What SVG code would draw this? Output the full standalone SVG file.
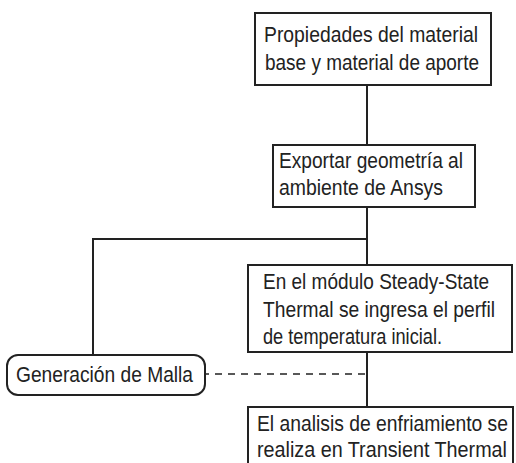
<svg xmlns="http://www.w3.org/2000/svg" width="516" height="463" viewBox="0 0 516 463">
<style>
.box{fill:#fff;stroke:#222;stroke-width:2}
.t{font-family:"Liberation Sans",Arial,sans-serif;font-size:22px;fill:#222}
.c{fill:none;stroke:#222;stroke-width:2}
.d{fill:none;stroke:#222;stroke-width:1.6;stroke-dasharray:7 6}
</style>
<rect width="516" height="463" fill="#fff"/>
<g id="connectors">
<line class="c" x1="367" y1="85" x2="367" y2="145"/>
<line class="c" x1="367" y1="207" x2="367" y2="265"/>
<polyline class="c" points="93,355 93,239 367,239"/>
<line class="c" x1="367" y1="352" x2="367" y2="407"/>
<line class="d" x1="202" y1="374" x2="367" y2="374"/>
</g>
<g id="n1">
<rect class="box" x="255" y="13" width="236" height="72"/>
<text class="t" x="264" y="42" textLength="214" lengthAdjust="spacingAndGlyphs">Propiedades del material</text>
<text class="t" x="265" y="70" textLength="214" lengthAdjust="spacingAndGlyphs">base y material de aporte</text>
</g>
<g id="n2">
<rect class="box" x="273" y="145" width="202" height="62"/>
<text class="t" x="279" y="168" textLength="184" lengthAdjust="spacingAndGlyphs">Exportar geometría al</text>
<text class="t" x="279" y="195" textLength="164" lengthAdjust="spacingAndGlyphs">ambiente de Ansys</text>
</g>
<g id="n3">
<rect class="box" x="248" y="265" width="264" height="87"/>
<text class="t" x="263" y="289" textLength="226" lengthAdjust="spacingAndGlyphs">En el módulo Steady-State</text>
<text class="t" x="263" y="317" textLength="232" lengthAdjust="spacingAndGlyphs">Thermal se ingresa el perfil</text>
<text class="t" x="263" y="344" textLength="179" lengthAdjust="spacingAndGlyphs">de temperatura inicial.</text>
</g>
<g id="n4">
<rect class="box" x="7" y="355" width="198" height="40" rx="11"/>
<text class="t" x="16" y="382" textLength="177" lengthAdjust="spacingAndGlyphs">Generación de Malla</text>
</g>
<g id="n5">
<rect class="box" x="248" y="407" width="265" height="70"/>
<text class="t" x="257" y="431" textLength="251" lengthAdjust="spacingAndGlyphs">El analisis de enfriamiento se</text>
<text class="t" x="257" y="457" textLength="250" lengthAdjust="spacingAndGlyphs">realiza en Transient Thermal</text>
</g>
</svg>
